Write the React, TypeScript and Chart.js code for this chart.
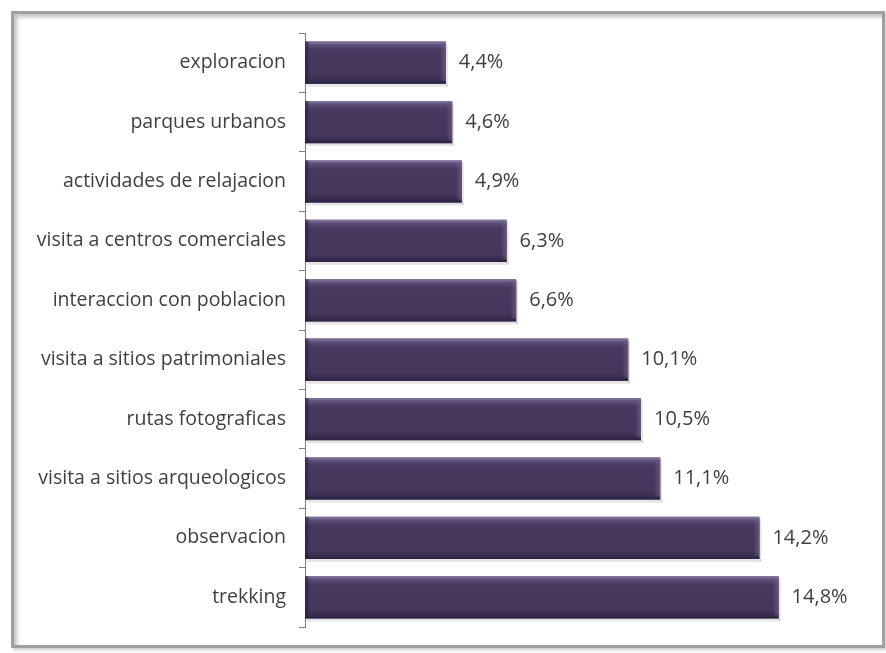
import React, { useEffect, useRef } from "react";
import { Chart, registerables } from "chart.js";

Chart.register(...registerables);

const categories = [
  "exploracion",
  "parques urbanos",
  "actividades de relajacion",
  "visita a centros comerciales",
  "interaccion con poblacion",
  "visita a sitios patrimoniales",
  "rutas fotograficas",
  "visita a sitios arqueologicos",
  "observacion",
  "trekking",
];
const values = [4.4, 4.6, 4.9, 6.3, 6.6, 10.1, 10.5, 11.1, 14.2, 14.8];
const valueLabels = ["4,4%", "4,6%", "4,9%", "6,3%", "6,6%", "10,1%", "10,5%", "11,1%", "14,2%", "14,8%"];

const FONT = "'Open Sans', sans-serif";
const TEXT = "#3f3f3f";

const bevelPlugin = {
  id: "bevel",
  afterDatasetsDraw(chart: any) {
    const ctx = chart.ctx;
    const meta = chart.getDatasetMeta(0);
    ctx.save();
    meta.data.forEach((bar: any, i: number) => {
      const { x, y, base, height } = bar.getProps(["x", "y", "base", "height"], true);
      const left = Math.min(base, x);
      const right = Math.max(base, x);
      const top = y - height / 2;
      const h = height;
      const w = right - left;
      // shadow below/right
      ctx.fillStyle = "rgba(0,0,0,0.10)";
      ctx.fillRect(left + 2, top + h, w, 3);
      ctx.fillRect(right, top + 2, 2, h);
      const g = ctx.createLinearGradient(0, top, 0, top + h);
      g.addColorStop(0, "#8a7ba3");
      g.addColorStop(0.08, "#5e4e7a");
      g.addColorStop(0.2, "#48395f");
      g.addColorStop(0.8, "#45365c");
      g.addColorStop(0.93, "#392b4e");
      g.addColorStop(1, "#2c2140");
      ctx.fillStyle = g;
      ctx.fillRect(left, top, w, h);
      // right bevel
      const gr = ctx.createLinearGradient(right - 6, 0, right, 0);
      gr.addColorStop(0, "rgba(120,105,150,0)");
      gr.addColorStop(1, "rgba(120,105,150,0.6)");
      ctx.fillStyle = gr;
      ctx.fillRect(right - 6, top + 3, 6, h - 6);
      // left bevel
      const gl = ctx.createLinearGradient(left, 0, left + 5, 0);
      gl.addColorStop(0, "rgba(40,28,58,0.8)");
      gl.addColorStop(1, "rgba(40,28,58,0)");
      ctx.fillStyle = gl;
      ctx.fillRect(left, top, 5, h);
      // value label
      ctx.fillStyle = TEXT;
      ctx.font = `20px ${FONT}`;
      ctx.textAlign = "left";
      ctx.textBaseline = "middle";
      ctx.fillText(valueLabels[i], right + 13, y);
    });
    ctx.restore();
  },
};

export default function App() {
  const ref = useRef<HTMLCanvasElement>(null);
  useEffect(() => {
    const chart = new Chart(ref.current!, {
      type: "bar",
      data: {
        labels: categories,
        datasets: [
          {
            data: values,
            backgroundColor: "#45365c",
            borderWidth: 0,
            barPercentage: 0.71,
            categoryPercentage: 1,
          },
        ],
      },
      plugins: [bevelPlugin],
      options: {
        indexAxis: "y",
        animation: false,
        responsive: false,
        events: [],
        layout: { padding: { top: 33, bottom: 26, left: 0, right: 37 } },
        plugins: { legend: { display: false }, tooltip: { enabled: false } },
        scales: {
          x: { display: false, min: 0, max: 17 },
          y: {
            afterFit(scale: any) {
              scale.width = 305;
            },
            grid: {
              offset: true,
              drawOnChartArea: false,
              drawTicks: true,
              tickLength: 6,
              color: "#7f7f7f",
            },
            border: { display: true, color: "#7f7f7f", width: 1 },
            ticks: {
              color: TEXT,
              padding: 13,
              font: { family: FONT, size: 19.5 },
            },
          },
        },
      },
    });
    return () => chart.destroy();
  }, []);
  return (
    <div style={{ position: "fixed", left: 0, top: 0, width: 886, height: 653, background: "#fff" }}>
      <div
        style={{
          position: "absolute",
          left: 11,
          top: 11,
          width: 868,
          height: 631,
          border: "3px solid #a0a0a0",
          boxShadow: "inset 3px 3px 4px rgba(0,0,0,0.25), 2px 2px 3px rgba(0,0,0,0.2)",
        }}
      />
      <canvas ref={ref} width={886} height={653} style={{ position: "absolute", left: 0, top: 0 }} />
    </div>
  );
}
